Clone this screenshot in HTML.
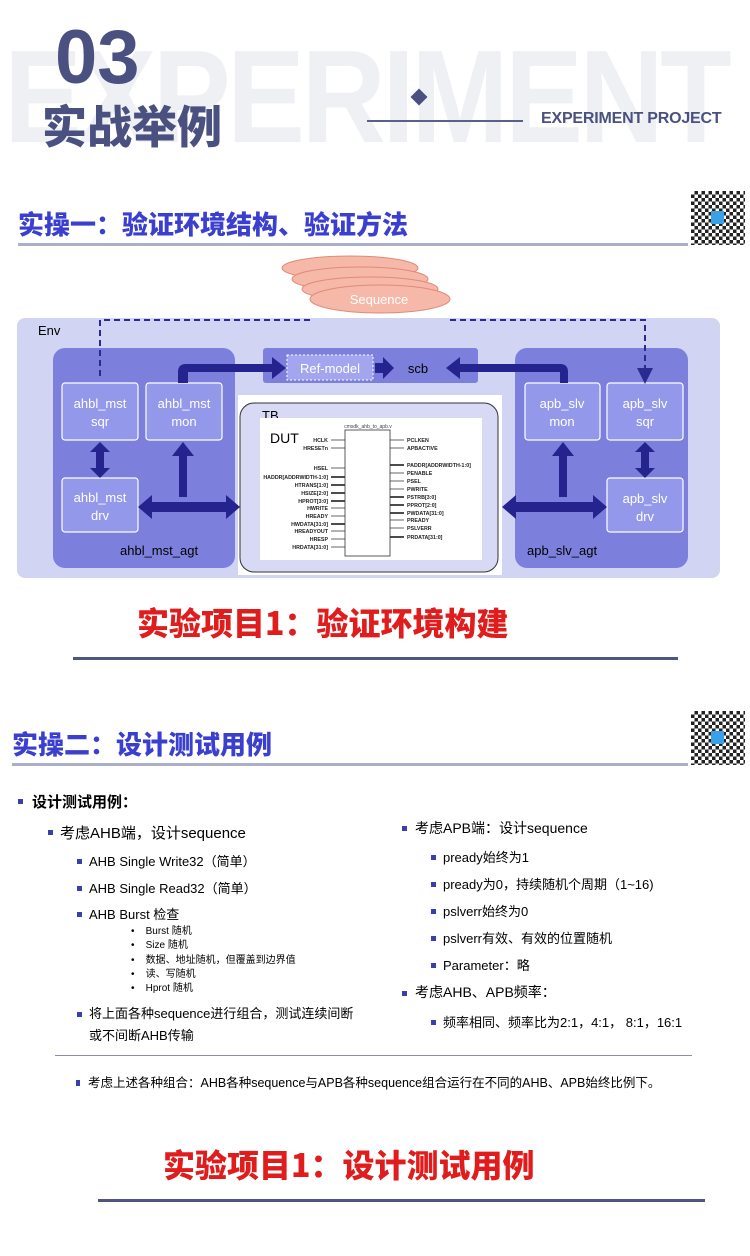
<!DOCTYPE html>
<html><head><meta charset="utf-8"><style>
body{margin:0;width:750px;height:1256px;background:#fff;position:relative;overflow:hidden;font-family:"Liberation Sans","Noto Sans CJK SC",sans-serif}
.a{position:absolute;white-space:nowrap}
.t{font-family:"Liberation Sans","Noto Sans CJK SC",sans-serif}
.sq{position:absolute;width:5px;height:5px;background:#3a3fb0}
</style></head><body>
<div class="a" style="left:4px;top:32px;font-size:132px;font-weight:bold;color:#eef0f4;letter-spacing:-4px;line-height:130px;transform:scaleX(0.885);transform-origin:0 0">EXPERIMENT</div>
<div class="a" style="left:55px;top:18px;font-size:76px;font-weight:bold;color:#4a5080;line-height:80px">03</div>
<div class="a" style="left:42px;top:96px;font-size:45px;font-weight:900;color:#4a5080;line-height:56px;font-family:'Noto Sans CJK SC',sans-serif">实战举例</div>
<div class="a" style="left:413px;top:91px;width:12px;height:12px;background:#4a5080;transform:rotate(45deg)"></div>
<div class="a" style="left:367px;top:120px;width:156px;height:2px;background:#5a6088"></div>
<div class="a" style="left:541px;top:110px;font-size:16px;font-weight:bold;color:#4a5080;letter-spacing:-0.2px">EXPERIMENT PROJECT</div>

<div class="a" style="left:18px;top:206px;font-size:26px;font-weight:900;color:#3b3fd0;font-family:'Noto Sans CJK SC',sans-serif;line-height:36px">实操一：验证环境结构、验证方法</div>
<div class="a" style="left:18px;top:243px;width:670px;height:3px;background:#aab0c8"></div>
<div class="a" style="left:691px;top:191px;width:54px;height:54px;background:repeating-conic-gradient(#222 0 25%,#fff 0 50%) 0 0/7px 7px"></div>
<div class="a" style="left:711px;top:211px;width:13px;height:13px;background:#3aa0e8"></div>

<svg class="a" style="left:0;top:250px" width="750" height="340" viewBox="0 250 750 340">
<defs><marker id="ah" markerWidth="8" markerHeight="8" refX="6" refY="4" orient="auto"><path d="M0,0L8,4L0,8z" fill="#2a2a90"/></marker></defs>
<rect x="17" y="318" width="703" height="260" rx="8" fill="#d2d4f4"/>
<rect x="238" y="395" width="264" height="180" fill="#fff"/>
<rect x="53" y="348" width="182" height="220" rx="12" fill="#7c80dc"/>
<rect x="515" y="348" width="173" height="220" rx="12" fill="#7c80dc"/>
<rect x="263" y="348" width="215" height="35" rx="3" fill="#7c80dc"/>
<rect x="287" y="355" width="86" height="25" fill="#a3a6ee" stroke="#fff" stroke-dasharray="2,2"/>
<text x="330" y="373" font-size="13" fill="#fff" text-anchor="middle" class="t">Ref-model</text>
<text x="418" y="373" font-size="13" fill="#000" text-anchor="middle" class="t">scb</text>
<text x="38" y="335" font-size="13" class="t">Env</text>
<g fill="#9498ea" stroke="#fff" stroke-width="1.2">
<rect x="62" y="383" width="76" height="57" rx="3"/><rect x="146" y="383" width="76" height="57" rx="3"/><rect x="62" y="478" width="76" height="54" rx="3"/>
<rect x="525" y="383" width="75" height="57" rx="3"/><rect x="607" y="383" width="76" height="57" rx="3"/><rect x="607" y="478" width="76" height="54" rx="3"/>
</g>
<g font-size="13" fill="#fff" text-anchor="middle" class="t">
<text x="100" y="408">ahbl_mst</text><text x="100" y="426">sqr</text>
<text x="184" y="408">ahbl_mst</text><text x="184" y="426">mon</text>
<text x="100" y="502">ahbl_mst</text><text x="100" y="520">drv</text>
<text x="562" y="408">apb_slv</text><text x="562" y="426">mon</text>
<text x="645" y="408">apb_slv</text><text x="645" y="426">sqr</text>
<text x="645" y="503">apb_slv</text><text x="645" y="521">drv</text>
</g>
<text x="120" y="555" font-size="13" class="t">ahbl_mst_agt</text>
<text x="527" y="555" font-size="13" class="t">apb_slv_agt</text>
<rect x="240" y="403" width="258" height="169" rx="14" fill="#d8daf5" stroke="#333" stroke-width="1"/>
<text x="262" y="420" font-size="13" class="t">TB</text>
<rect x="260" y="418" width="222" height="142" fill="#fff"/>
<text x="270" y="443" font-size="14" class="t">DUT</text>
<text x="368" y="428" font-size="5" text-anchor="middle" fill="#444" class="t">cmsdk_ahb_to_apb.v</text>
<rect x="345" y="430" width="45" height="126" fill="#fff" stroke="#333" stroke-width="0.8"/>
<g font-size="5.3" font-weight="bold" text-anchor="end" class="t" fill="#222">
<text x="328" y="442">HCLK</text><text x="328" y="450">HRESETn</text><text x="328" y="470">HSEL</text><text x="328" y="479">HADDR[ADDRWIDTH-1:0]</text><text x="328" y="487">HTRANS[1:0]</text><text x="328" y="495">HSIZE[2:0]</text><text x="328" y="503">HPROT[3:0]</text><text x="328" y="510">HWRITE</text><text x="328" y="518">HREADY</text><text x="328" y="526">HWDATA[31:0]</text><text x="328" y="533">HREADYOUT</text><text x="328" y="541">HRESP</text><text x="328" y="549">HRDATA[31:0]</text>
</g>
<g font-size="5.3" font-weight="bold" class="t" fill="#222">
<text x="407" y="442">PCLKEN</text><text x="407" y="450">APBACTIVE</text><text x="407" y="467">PADDR[ADDRWIDTH-1:0]</text><text x="407" y="475">PENABLE</text><text x="407" y="483">PSEL</text><text x="407" y="491">PWRITE</text><text x="407" y="499">PSTRB[3:0]</text><text x="407" y="507">PPROT[2:0]</text><text x="407" y="515">PWDATA[31:0]</text><text x="407" y="522">PREADY</text><text x="407" y="530">PSLVERR</text><text x="407" y="539">PRDATA[31:0]</text>
</g>
<g stroke="#333" stroke-width="0.8">
<path d="M331 440H345M331 448H345M331 468H345M331 508H345M331 516H345M331 531H345M331 539H345M331 547H345"/>
<path d="M331 477H345M331 485H345M331 493H345M331 501H345M331 524H345" stroke-width="1.8"/>
<path d="M390 440H404M390 448H404M390 473H404M390 481H404M390 489H404M390 520H404M390 528H404"/>
<path d="M390 465H404M390 497H404M390 505H404M390 513H404M390 537H404" stroke-width="1.8"/>
</g>
<ellipse cx="350" cy="268" rx="68" ry="12" fill="#f6b8a8" stroke="#e08a78"/>
<ellipse cx="360" cy="279" rx="68" ry="12" fill="#f6b8a8" stroke="#e08a78"/>
<ellipse cx="370" cy="289" rx="68" ry="12" fill="#f6b8a8" stroke="#e08a78"/>
<ellipse cx="380" cy="299" rx="70" ry="14" fill="#f6b8a8" stroke="#e08a78"/>
<text x="379" y="304" font-size="13" fill="#fff" text-anchor="middle" class="t">Sequence</text>
<path d="M310 320H100V380M450 320H645V380" fill="none" stroke="#2a2a90" stroke-width="2" stroke-dasharray="6,4" marker-end="url(#ah)"/>
<g fill="#25238e">
<path d="M100 442L110 452H104V468H110L100 478L90 468H96V452H90z"/>
<path d="M645 442L655 452H649V468H655L645 478L635 468H641V452H635z"/>
<path d="M183 442L194 456H187V497H179V456H172z"/>
<path d="M563 442L574 456H567V497H559V456H552z"/>
<path d="M138 507L152 495V502H226V495L240 507L226 519V512H152V519z"/>
<path d="M502 507L516 495V502H593V495L607 507L593 519V512H516V519z"/>
<path d="M178 383V372Q178 364 186 364H272V357L286 368L272 379V372H188V383z"/>
<path d="M375 363H383V357L394 368L383 379V373H375z"/>
<path d="M568 383V372Q568 364 560 364H460V357L446 368L460 379V372H560V383z"/>
</g>
</svg>

<div class="a" style="left:137px;top:600px;font-size:32px;font-weight:900;color:#e01c1c;font-family:'Noto Sans CJK SC',sans-serif;line-height:44px">实验项目1：验证环境构建</div>
<div class="a" style="left:73px;top:657px;width:605px;height:3px;background:#505580"></div>

<div class="a" style="left:12px;top:726px;font-size:26px;font-weight:900;color:#3b3fd0;font-family:'Noto Sans CJK SC',sans-serif;line-height:36px">实操二：设计测试用例</div>
<div class="a" style="left:12px;top:763px;width:676px;height:3px;background:#aab0c8"></div>
<div class="a" style="left:691px;top:711px;width:54px;height:54px;background:repeating-conic-gradient(#222 0 25%,#fff 0 50%) 0 0/7px 7px"></div>
<div class="a" style="left:711px;top:731px;width:13px;height:13px;background:#3aa0e8"></div>

<div class="sq" style="left:18px;top:799px"></div><div class="a" style="left:32px;top:791px;font-size:15px;font-weight:bold">设计测试用例：</div>
<div class="sq" style="left:48px;top:830px"></div><div class="a" style="left:60px;top:822px;font-size:15px">考虑AHB端，设计sequence</div>
<div class="sq" style="left:77px;top:859px"></div><div class="a" style="left:89px;top:851px;font-size:13px">AHB Single Write32（简单）</div>
<div class="sq" style="left:77px;top:886px"></div><div class="a" style="left:89px;top:878px;font-size:13px">AHB Single Read32（简单）</div>
<div class="sq" style="left:77px;top:912px"></div><div class="a" style="left:89px;top:904px;font-size:13px">AHB Burst 检查</div>
<div class="a" style="left:131px;top:925px;font-size:10px;line-height:14.3px">•&nbsp;&nbsp;&nbsp;&nbsp;Burst 随机<br>•&nbsp;&nbsp;&nbsp;&nbsp;Size 随机<br>•&nbsp;&nbsp;&nbsp;&nbsp;数据、地址随机，但覆盖到边界值<br>•&nbsp;&nbsp;&nbsp;&nbsp;读、写随机<br>•&nbsp;&nbsp;&nbsp;&nbsp;Hprot 随机</div>
<div class="sq" style="left:77px;top:1012px"></div><div class="a" style="left:89px;top:1003px;font-size:13px;line-height:22px">将上面各种sequence进行组合，测试连续间断<br>或不间断AHB传输</div>

<div class="sq" style="left:402px;top:826px"></div><div class="a" style="left:415px;top:818px;font-size:14px">考虑APB端：设计sequence</div>
<div class="sq" style="left:431px;top:855px"></div><div class="a" style="left:443px;top:847px;font-size:13px">pready始终为1</div>
<div class="sq" style="left:431px;top:882px"></div><div class="a" style="left:443px;top:874px;font-size:13px">pready为0，持续随机个周期（1~16)</div>
<div class="sq" style="left:431px;top:909px"></div><div class="a" style="left:443px;top:901px;font-size:13px">pslverr始终为0</div>
<div class="sq" style="left:431px;top:936px"></div><div class="a" style="left:443px;top:928px;font-size:13px">pslverr有效、有效的位置随机</div>
<div class="sq" style="left:431px;top:963px"></div><div class="a" style="left:443px;top:955px;font-size:13px">Parameter：略</div>
<div class="sq" style="left:402px;top:991px"></div><div class="a" style="left:415px;top:982px;font-size:14px">考虑AHB、APB频率：</div>
<div class="sq" style="left:431px;top:1020px"></div><div class="a" style="left:443px;top:1012px;font-size:13px">频率相同、频率比为2:1，4:1， 8:1，16:1</div>

<div class="a" style="left:55px;top:1055px;width:637px;height:1px;background:#8a8ea8"></div>
<div class="sq" style="left:76px;top:1080px;width:4px;height:6px"></div><div class="a" style="left:88px;top:1072px;font-size:12.5px">考虑上述各种组合：AHB各种sequence与APB各种sequence组合运行在不同的AHB、APB始终比例下。</div>

<div class="a" style="left:163px;top:1142px;font-size:32px;font-weight:900;color:#e01c1c;font-family:'Noto Sans CJK SC',sans-serif;line-height:44px">实验项目1：设计测试用例</div>
<div class="a" style="left:98px;top:1199px;width:607px;height:3px;background:#505580"></div>
</body></html>
